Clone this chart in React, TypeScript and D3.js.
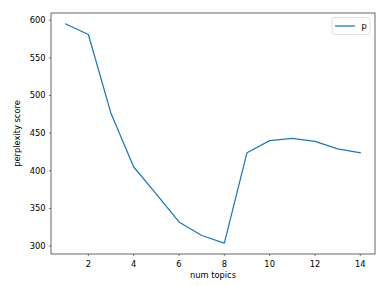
import React from "react";
import * as d3 from "d3";

const topics = [1, 2, 3, 4, 5, 6, 7, 8, 9, 10, 11, 12, 13, 14];
const perplexity = [595, 581, 476, 405, 369, 332, 314, 304, 424, 440, 443, 439, 429, 424];
const xTicks = [2, 4, 6, 8, 10, 12, 14];
const yTicks = [300, 350, 400, 450, 500, 550, 600];
const seriesName = "p";

export default function App() {
  const W = 385, H = 286;
  const L = 51, R = 375, T = 13, B = 254;
  const xmin = d3.min(topics)!, xmax = d3.max(topics)!;
  const ymin = d3.min(perplexity)!, ymax = d3.max(perplexity)!;
  const xm = (xmax - xmin) * 0.05, ym = (ymax - ymin) * 0.05;
  const x = d3.scaleLinear().domain([xmin - xm, xmax + xm]).range([L, R]);
  const y = d3.scaleLinear().domain([ymin - ym, ymax + ym]).range([B, T]);
  const line = d3.line<number>().x((_, i) => x(topics[i])).y((d) => y(d));
  const font = "DejaVu Sans, sans-serif";
  const c = "#1f77b4";
  return (
    <svg width={W} height={H} style={{ position: "absolute", left: 0, top: 0, background: "#fff" }}>
      <rect x={0} y={0} width={W} height={H} fill="#fff" />
      <path d={line(perplexity) || ""} fill="none" stroke={c} strokeWidth={1.25} strokeLinejoin="round" strokeLinecap="square" />
      <rect x={L} y={T} width={R - L} height={B - T} fill="none" stroke="#000" strokeWidth={0.6} />
      {xTicks.map((t) => (
        <g key={t}>
          <line x1={x(t)} x2={x(t)} y1={B} y2={B + 2.1} stroke="#000" strokeWidth={0.5} />
          <text x={x(t)} y={B + 12.5} fontSize={8.3} fontFamily={font} textAnchor="middle" fill="#000">{t}</text>
        </g>
      ))}
      {yTicks.map((t) => (
        <g key={t}>
          <line x1={L - 2.1} x2={L} y1={y(t)} y2={y(t)} stroke="#000" strokeWidth={0.5} />
          <text x={L - 5.5} y={y(t) + 3} fontSize={8.3} fontFamily={font} textAnchor="end" fill="#000">{t}</text>
        </g>
      ))}
      <text x={(L + R) / 2} y={B + 23.5} fontSize={8.3} fontFamily={font} textAnchor="middle" fill="#000">num topics</text>
      <text transform={`translate(${20},${(T + B) / 2}) rotate(-90)`} fontSize={8.3} fontFamily={font} textAnchor="middle" fill="#000">perplexity score</text>
      <rect x={332} y={17.5} width={38} height={17} rx={2} fill="#fff" stroke="#ccc" strokeWidth={0.6} />
      <line x1={335} x2={355} y1={26} y2={26} stroke={c} strokeWidth={1.25} />
      <text x={361.5} y={29} fontSize={8.3} fontFamily={font} fill="#000">{seriesName}</text>
    </svg>
  );
}
